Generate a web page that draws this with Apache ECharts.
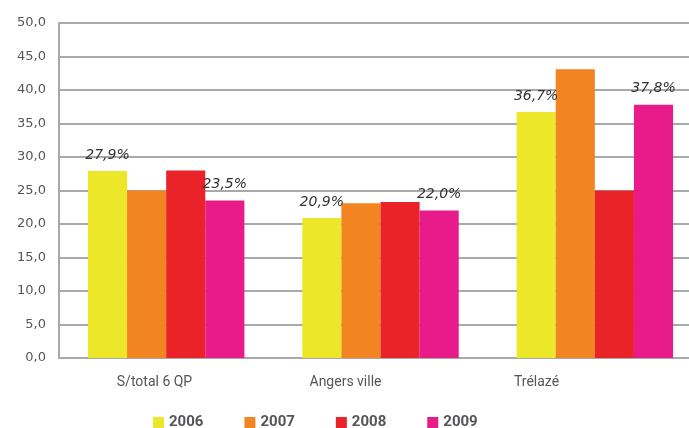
<!DOCTYPE html>
<html>
<head>
<meta charset="utf-8">
<script src="https://cdn.jsdelivr.net/npm/echarts@6/dist/echarts.min.js"></script>
<style>
  html, body { margin: 0; padding: 0; background: #fff; }
  #chart { width: 689px; height: 428px; }
</style>
</head>
<body>
<div id="chart"></div>
<script>
const categories = ['S/total 6 QP', 'Angers ville', 'Trélazé'];
const years = ['2006', '2007', '2008', '2009'];
const v2006 = [27.9, 20.9, 36.7];
const v2007 = [25.0, 23.1, 43.1];
const v2008 = [28.0, 23.3, 25.0];
const v2009 = [23.5, 22.0, 37.8];
const colors = ['#ece829', '#f28522', '#e92328', '#e91b8b'];
// only 2006 and 2009 carry value labels in the original
const showLabel = [true, false, false, true];

const fmt = v => v.toFixed(1).replace('.', ',');
const font = 'Roboto, "DejaVu Sans", sans-serif';
const wideFont = '"DejaVu Sans", sans-serif';

let myChart = echarts.init(document.getElementById('chart'));
let option = {
  animation: false,
  color: colors,
  grid: [
    // plot runs past the right edge of the canvas, as in the source image
    { left: 59, width: 643, top: 23, bottom: 70, outerBoundsMode: 'none', containLabel: false },
    // category names sit on a narrower spacing than the bars
    { left: 59, width: 573, top: 23, bottom: 70, outerBoundsMode: 'none', containLabel: false }
  ],
  legend: {
    left: 148,
    top: 410,
    itemWidth: 11,
    itemHeight: 11,
    itemGap: 41,
    icon: 'rect',
    textStyle: { color: '#55565a', fontSize: 15, fontWeight: 'bold', fontFamily: font }
  },
  xAxis: [
    {
      type: 'category',
      gridIndex: 0,
      data: categories,
      axisLine: { lineStyle: { color: '#a7a9ac', width: 2 } },
      axisTick: { show: false },
      axisLabel: { show: false }
    },
    {
      type: 'category',
      gridIndex: 1,
      data: categories,
      axisLine: { show: false },
      axisTick: { show: false },
      axisLabel: { color: '#55565a', fontSize: 14, fontFamily: font, margin: 17 }
    }
  ],
  yAxis: [
    {
      type: 'value',
      gridIndex: 0,
      min: 0,
      max: 50,
      interval: 5,
      axisLine: { show: true, lineStyle: { color: '#a7a9ac', width: 2 } },
      axisTick: { show: false },
      splitLine: { lineStyle: { color: '#a7a9ac', width: 2 } },
      axisLabel: { color: '#55565a', fontSize: 13, fontFamily: wideFont, margin: 13, formatter: v => fmt(v) }
    },
    { type: 'value', gridIndex: 1, min: 0, max: 50, show: false }
  ],
  series: [v2006, v2007, v2008, v2009].map((d, i) => ({
    name: years[i],
    type: 'bar',
    data: d,
    barGap: '0%',
    barCategoryGap: '27%',
    label: {
      show: showLabel[i],
      position: 'top',
      distance: 9,
      fontStyle: 'italic',
      fontSize: 14,
      fontFamily: wideFont,
      color: '#333',
      formatter: p => fmt(p.value) + '%'
    }
  }))
};
myChart.setOption(option);
</script>
</body>
</html>
